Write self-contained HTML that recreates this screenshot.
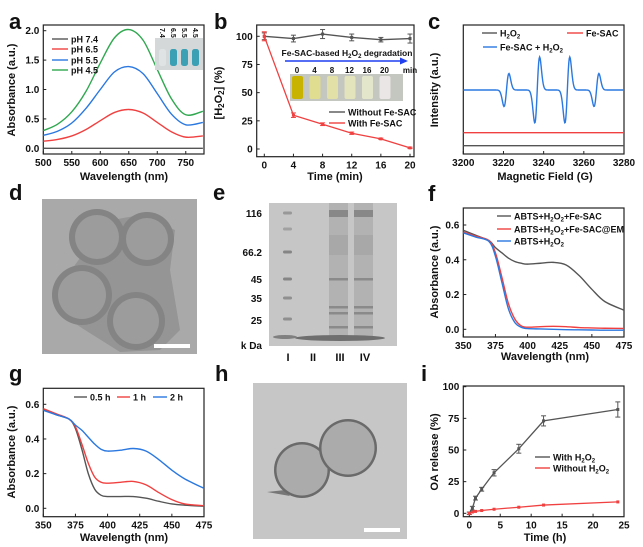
<!DOCTYPE html>
<html><head><meta charset="utf-8"><style>
html,body{margin:0;padding:0;background:#fff}
svg{display:block;font-family:"Liberation Sans",Arial,sans-serif;font-weight:bold}
</style></head><body>
<svg id="fig" width="643" height="547" viewBox="0 0 643 547" xmlns="http://www.w3.org/2000/svg"></svg>
<script>
// ---- data ----
const aWave=[500,525,550,575,600,625,650,675,700,725,750,780];
const aPH74=[0,0,0,0,0,0,0,0,0,0,0,0];
const aPH65=[0.12,0.15,0.21,0.32,0.47,0.61,0.66,0.6,0.44,0.28,0.19,0.21];
const aPH55=[0.22,0.29,0.43,0.68,1.0,1.3,1.39,1.27,0.93,0.58,0.4,0.44];
const aPH45=[0.3,0.41,0.62,0.97,1.45,1.88,2.02,1.84,1.34,0.84,0.57,0.63];
const aXTicks=[500,550,600,650,700,750];
const aYTicks=[0,0.5,1,1.5,2];
const bTime=[0,4,8,12,16,20];
const bWithout=[100,98,102,99,97,98];
const bWithoutErr=[3,3,4,3,2,4];
const bWith=[100,30,22,14,9,1];
const bWithErr=[4,2,1.2,1,0.6,0.6];
const bXTicks=[0,4,8,12,16,20];
const bYTicks=[0,25,50,75,100];
const cPeaks=[3221.5,3236.8,3251.8,3266.3];
const cAmps=[0.5,1,1,0.5];
const cXTicks=[3200,3220,3240,3260,3280];
const fWave=[350,360,370,375,380,385,390,395,400,410,420,430,440,450,460,475];
const fFeSAC=[0.57,0.54,0.51,0.47,0.44,0.41,0.39,0.38,0.375,0.38,0.385,0.37,0.31,0.23,0.16,0.11];
const fEM=[0.56,0.535,0.51,0.44,0.3,0.15,0.06,0.02,0.012,0.015,0.017,0.015,0.01,0.008,0.006,0.005];
const fBare=[0.555,0.53,0.505,0.42,0.27,0.12,0.04,0.012,0.004,0.002,0,-0.002,-0.003,-0.004,-0.005,-0.005];
const gH05=[0.57,0.54,0.515,0.46,0.34,0.2,0.11,0.075,0.068,0.068,0.068,0.058,0.04,0.025,0.018,0.012];
const gH1=[0.575,0.545,0.515,0.47,0.37,0.26,0.18,0.15,0.145,0.15,0.155,0.135,0.09,0.05,0.025,0.015];
const gH2=[0.565,0.54,0.515,0.48,0.45,0.41,0.37,0.34,0.33,0.335,0.345,0.33,0.28,0.22,0.17,0.115];
const fgXTicks=[350,375,400,425,450,475];
const fgYTicks=[0,0.2,0.4,0.6];
const iTime=[0,0.5,1,2,4,8,12,24];
const iWith=[0,4,12,19,32,51,73,82];
const iWithErr=[1,1.5,1.5,1.5,2.5,3.5,4,6];
const iWithout=[0,1,1.5,2.2,3.2,4.8,6.5,9];
const iXTicks=[0,5,10,15,20,25];
const iYTicks=[0,25,50,75,100];

const NS="http://www.w3.org/2000/svg";
const svg=document.getElementById('fig');
function mk(tag,attrs,parent){const e=document.createElementNS(NS,tag);for(const k in attrs)e.setAttribute(k,attrs[k]);(parent||svg).appendChild(e);return e;}
function txt(x,y,s,size,anchor,parent){const t=mk('text',{x:x,y:y,'font-size':size,'text-anchor':anchor||'middle',fill:'#111'},parent);t.innerHTML=s;return t;}
function lin(d0,d1,r0,r1){return v=>r0+(v-d0)/(d1-d0)*(r1-r0);}
function smooth(pts){let d='M'+pts[0][0]+','+pts[0][1];for(let i=0;i<pts.length-1;i++){const p0=pts[i-1]||pts[i],p1=pts[i],p2=pts[i+1],p3=pts[i+2]||p2;d+=' C'+(p1[0]+(p2[0]-p0[0])/6)+','+(p1[1]+(p2[1]-p0[1])/6)+' '+(p2[0]-(p3[0]-p1[0])/6)+','+(p2[1]-(p3[1]-p1[1])/6)+' '+p2[0]+','+p2[1];}return d;}
function frame(x0,y0,x1,y1,name){const r=mk('rect',{x:x0,y:y0,width:x1-x0,height:y1-y0,fill:'none',stroke:'#222','stroke-width':1.2});}
function xticks(ticks,sx,yb,name,fmt){const g=mk('g',{});ticks.forEach(t=>{mk('line',{x1:sx(t),x2:sx(t),y1:yb,y2:yb-3,stroke:'#222'},g);txt(sx(t),yb+12,fmt?fmt(t):t,10,'middle',g);});}
function yticks(ticks,sy,xl,name,fmt){const g=mk('g',{});ticks.forEach(t=>{mk('line',{x1:xl,x2:xl+3,y1:sy(t),y2:sy(t),stroke:'#222'},g);txt(xl-4,sy(t)+3.5,fmt?fmt(t):t,10,'end',g);});}
function curve(xs,ys,sx,sy,color,name,w){const p=mk('path',{d:smooth(xs.map((x,i)=>[sx(x),sy(ys[i])])),fill:'none',stroke:color,'stroke-width':w||1.4});return p;}
function label(x,y,s,name){const t=txt(x,y,s,22,'start');}
function ytitle(x,y,s,name){const t=txt(x,y,s,11,'middle');t.setAttribute('transform','rotate(-90 '+x+' '+y+')');}
function xtitle(x,y,s,name){const t=txt(x,y,s,11,'middle');}
function legend(x1,x2,y,color,s,name){const g=mk('g',{});mk('line',{x1:x1,x2:x2,y1:y,y2:y,stroke:color,'stroke-width':1.4},g);txt(x2+3,y+3.5,s,9,'start',g);}
const f1=v=>v.toFixed(1);

// ---- panel a ----
label(9,29,'a','panel-a-label');
{const sx=lin(500,782,43.3,204),sy=lin(0,2,148.3,30.7);
frame(43.3,25,204,154,'panel-a');xticks(aXTicks,sx,154,'panel-a');yticks(aYTicks,sy,43.3,'panel-a',f1);
curve(aWave,aPH74,sx,sy,'#555','ph74-curve');curve(aWave,aPH65,sx,sy,'#f04040','ph65-curve');curve(aWave,aPH55,sx,sy,'#2a78e0','ph55-curve');curve(aWave,aPH45,sx,sy,'#30a850','ph45-curve');
legend(52,68,39,'#555','pH 7.4','legend-ph74');legend(52,68,49,'#f04040','pH 6.5','legend-ph65');legend(52,68,60,'#2a78e0','pH 5.5','legend-ph55');legend(52,68,70,'#30a850','pH 4.5','legend-ph45');
const ins=mk('g',{});
mk('rect',{x:155,y:38,width:48,height:32,fill:'#d4d8d8'},ins);
[0,1,2,3].forEach(i=>{const cx=159+i*11;mk('rect',{x:cx,y:49,width:7,height:17,rx:2.5,fill:i==0?'#dfe3e3':'#2a9ab0',opacity:i==0?1:0.9},ins);const t=txt(cx+1,28,['7.4','6.5','5.5','4.5'][i],7,'start',ins);t.setAttribute('transform','rotate(90 '+(cx+1)+' 28)');});
ytitle(15,90,'Absorbance (a.u.)','panel-a-y-title');xtitle(124,180,'Wavelength (nm)','panel-a-x-title');}

// ---- panel b ----
label(214,29,'b','panel-b-label');
{const sx=lin(0,20,264.3,410),sy=lin(0,100,149,36.3);
frame(256.7,25,414,156.7,'panel-b');xticks(bXTicks,sx,156.7,'panel-b');yticks(bYTicks,sy,256.7,'panel-b');
function series(ys,es,color,name){const g=mk('g',{});mk('polyline',{points:bTime.map((t,i)=>sx(t)+','+sy(ys[i])).join(' '),fill:'none',stroke:color,'stroke-width':1.3},g);bTime.forEach((t,i)=>{const x=sx(t);mk('line',{x1:x,x2:x,y1:sy(ys[i]-es[i]),y2:sy(ys[i]+es[i]),stroke:color},g);[ys[i]-es[i],ys[i]+es[i]].forEach(v=>mk('line',{x1:x-2.5,x2:x+2.5,y1:sy(v),y2:sy(v),stroke:color},g));mk('rect',{x:x-1.5,y:sy(ys[i])-1.5,width:3,height:3,fill:color},g);});}
series(bWithout,bWithoutErr,'#555','without-fe-sac-series');series(bWith,bWithErr,'#f04040','with-fe-sac-series');
const t=txt(347,56,'Fe-SAC-based H<tspan font-size="6" dy="2">2</tspan><tspan dy="-2">O</tspan><tspan font-size="6" dy="2">2</tspan><tspan dy="-2"> degradation</tspan>',8.5,'middle');
const ar=mk('g',{});mk('line',{x1:285,x2:402,y1:61,y2:61,stroke:'#1f3ff0','stroke-width':1.6},ar);mk('polygon',{points:'408,61 400,57.5 400,64.5',fill:'#1f3ff0'},ar);
const ph=mk('g',{});
mk('rect',{x:290,y:74,width:113,height:27,fill:'#c4c6c0'},ph);
const cols=['#c8b400','#e0dc90','#e2e0a6','#e4e4bc','#e4e6cc','#ebe6e6'];
['0','4','8','12','16','20'].forEach((s,i)=>{const cx=297+i*17.5;mk('rect',{x:cx-5,y:76,width:11,height:23,rx:2,fill:cols[i]},ph);txt(cx,73,s,8,'middle',ph);});
txt(410,73,'min',8,'middle',ph);
legend(329,345,112,'#555','Without Fe-SAC','legend-without-fe-sac');legend(329,345,123,'#f04040','With Fe-SAC','legend-with-fe-sac');
ytitle(222,93,'[H<tspan font-size="8" dy="2">2</tspan><tspan dy="-2">O</tspan><tspan font-size="8" dy="2">2</tspan><tspan dy="-2">] (%)</tspan>','panel-b-y-title');xtitle(335,180,'Time (min)','panel-b-x-title');}

// ---- panel c ----
label(428,29,'c','panel-c-label');
{const sx=lin(3200,3280,463.3,624);
frame(463.3,25,624,154,'panel-c');xticks(cXTicks,sx,154,'panel-c');
const field=[];for(let b=3200;b<=3280;b+=0.25)field.push(b);
function epr(base,scale,color,name){let d='';field.forEach((b,i)=>{let v=0;cPeaks.forEach((p,k)=>{const u=(b-p)/1.2;v+=cAmps[k]*(-u*Math.exp(0.5*(1-u*u)));});d+=(i?'L':'M')+sx(b).toFixed(2)+','+(base-v*scale).toFixed(2);});const p=mk('path',{d:d,fill:'none',stroke:color,'stroke-width':1.4});}
epr(90,-33,'#2a78e0','fe-sac-h2o2-spectrum');epr(132.7,0,'#f04040','fe-sac-spectrum');epr(145.7,0,'#555','h2o2-spectrum');
legend(482,497,33,'#555','H<tspan font-size="6" dy="2">2</tspan><tspan dy="-2">O</tspan><tspan font-size="6" dy="2">2</tspan>','legend-h2o2');
legend(567,583,33,'#f04040','Fe-SAC','legend-fe-sac');
legend(483,497,47,'#2a78e0','Fe-SAC + H<tspan font-size="6" dy="2">2</tspan><tspan dy="-2">O</tspan><tspan font-size="6" dy="2">2</tspan>','legend-fe-sac-h2o2');
ytitle(438,90,'Intensity (a.u.)','panel-c-y-title');xtitle(545,180,'Magnetic Field (G)','panel-c-x-title');}

// ---- panel d (TEM) ----
label(9,200,'d','panel-d-label');
{const g=mk('g',{});
mk('rect',{x:42,y:199,width:155,height:155,fill:'#a9a9a9'},g);
mk('path',{d:'M85,225 L140,215 L175,230 L170,270 L180,330 L160,350 L120,352 L85,330 L62,315 L64,280 L80,258 Z',fill:'#959595'},g);
[[97,237,23],[147,239,22],[82,295,25],[136,321,24]].forEach(c=>{mk('circle',{cx:c[0],cy:c[1],r:c[2]+5,fill:'#848484'},g);mk('circle',{cx:c[0],cy:c[1],r:c[2]-1,fill:'#9c9c9c'},g);});
mk('rect',{x:154,y:344,width:36,height:4,fill:'#fff'},g);}

// ---- panel e (gel) ----
label(213,200,'e','panel-e-label');
{const g=mk('g',{});
mk('rect',{x:269,y:203,width:128,height:143,fill:'#c6c6c6'},g);
[[213,0.5],[229,0.4],[252,0.7],[279,0.7],[298,0.6],[319,0.6]].forEach(b=>mk('rect',{x:283,y:b[0]-1.5,width:9,height:3,rx:1.5,fill:'#6a6a6a',opacity:b[1]},g));
[329,354].forEach(x=>{mk('rect',{x:x,y:203,width:19,height:135,fill:'#b2b2b2'},g);mk('rect',{x:x,y:210,width:19,height:7,fill:'#888'},g);mk('rect',{x:x,y:235,width:19,height:20,fill:'#a8a8a8'},g);[279,307,313,327].forEach(y=>mk('rect',{x:x,y:y-1,width:19,height:2.5,fill:'#8a8a8a'},g));});
mk('ellipse',{cx:340,cy:338,rx:45,ry:3,fill:'#6e6e6e'},g);mk('ellipse',{cx:285,cy:337,rx:12,ry:2,fill:'#808080'},g);
[['116',213],['66.2',252],['45',279],['35',298],['25',320],['k Da',345]].forEach(l=>txt(262,l[1]+4,l[0],10,'end',g));
[['I',288],['II',313],['III',340],['IV',365]].forEach(l=>txt(l[1],361,l[0],11,'middle',g));}

// ---- panel f ----
label(428,201,'f','panel-f-label');
{const sx=lin(350,475,463.3,624),sy=lin(0,0.6,329.3,225);
frame(463.3,208,624,337,'panel-f');xticks(fgXTicks,sx,337,'panel-f');yticks(fgYTicks,sy,463.3,'panel-f',f1);
curve(fWave,fFeSAC,sx,sy,'#555','abts-h2o2-fe-sac-curve');curve(fWave,fEM,sx,sy,'#f04040','abts-h2o2-fe-sac-em-curve');curve(fWave,fBare,sx,sy,'#2a78e0','abts-h2o2-curve');
const s2='<tspan font-size="6" dy="2">2</tspan><tspan dy="-2">';
legend(497,511,216,'#555','ABTS+H'+s2+'O</tspan>'+s2+'+Fe-SAC</tspan>','legend-abts-h2o2-fe-sac');
legend(497,511,229,'#f04040','ABTS+H'+s2+'O</tspan>'+s2+'+Fe-SAC@EM</tspan>','legend-abts-h2o2-fe-sac-em');
legend(497,511,241,'#2a78e0','ABTS+H'+s2+'O</tspan><tspan font-size="6" dy="2">2</tspan>','legend-abts-h2o2');
ytitle(438,272,'Absorbance (a.u.)','panel-f-y-title');xtitle(545,360,'Wavelength (nm)','panel-f-x-title');}

// ---- panel g ----
label(9,381,'g','panel-g-label');
{const sx=lin(350,475,43.3,204),sy=lin(0,0.6,508.3,404.3);
frame(43.3,388.3,204,516.7,'panel-g');xticks(fgXTicks,sx,516.7,'panel-g');yticks(fgYTicks,sy,43.3,'panel-g',f1);
curve(fWave,gH05,sx,sy,'#555','half-hour-curve');curve(fWave,gH1,sx,sy,'#f04040','one-hour-curve');curve(fWave,gH2,sx,sy,'#2a78e0','two-hour-curve');
legend(74,87,397,'#555','0.5 h','legend-half-hour');legend(117,130,397,'#f04040','1 h','legend-one-hour');legend(153,167,397,'#2a78e0','2 h','legend-two-hour');
ytitle(15,452,'Absorbance (a.u.)','panel-g-y-title');xtitle(124,541,'Wavelength (nm)','panel-g-x-title');}

// ---- panel h (TEM) ----
label(215,381,'h','panel-h-label');
{const g=mk('g',{});
mk('rect',{x:253,y:383,width:154,height:156,fill:'#c6c6c6'},g);
mk('path',{d:'M267,492 L285,490 L290,496 Z',fill:'#777'},g);
[[302,470,27],[348,448,28]].forEach(c=>{mk('circle',{cx:c[0],cy:c[1],r:c[2]+1,fill:'#6a6a6a'},g);mk('circle',{cx:c[0],cy:c[1],r:c[2]-1.5,fill:'#ababab'},g);});
mk('rect',{x:364,y:528,width:36,height:4,fill:'#fff'},g);}

// ---- panel i ----
label(421,381,'i','panel-i-label');
{const sx=lin(0,25,469.3,624),sy=lin(0,100,513.3,386.7);
frame(463.3,386,624,516.7,'panel-i');xticks(iXTicks,sx,516.7,'panel-i');yticks(iYTicks,sy,463.3,'panel-i');
function series(ys,es,color,name){const g=mk('g',{});mk('polyline',{points:iTime.map((t,i)=>sx(t)+','+sy(ys[i])).join(' '),fill:'none',stroke:color,'stroke-width':1.3},g);iTime.forEach((t,i)=>{const x=sx(t);if(es){mk('line',{x1:x,x2:x,y1:sy(ys[i]-es[i]),y2:sy(ys[i]+es[i]),stroke:color},g);[ys[i]-es[i],ys[i]+es[i]].forEach(v=>mk('line',{x1:x-2.5,x2:x+2.5,y1:sy(v),y2:sy(v),stroke:color},g));}mk('rect',{x:x-1.5,y:sy(ys[i])-1.5,width:3,height:3,fill:color},g);});}
series(iWith,iWithErr,'#555','with-h2o2-series');series(iWithout,null,'#f04040','without-h2o2-series');
legend(535,550,457,'#555','With H<tspan font-size="6" dy="2">2</tspan><tspan dy="-2">O</tspan><tspan font-size="6" dy="2">2</tspan>','legend-with-h2o2');
legend(535,550,468,'#f04040','Without H<tspan font-size="6" dy="2">2</tspan><tspan dy="-2">O</tspan><tspan font-size="6" dy="2">2</tspan>','legend-without-h2o2');
ytitle(438,452,'OA release (%)','panel-i-y-title');xtitle(545,541,'Time (h)','panel-i-x-title');}
</script>
</body></html>
